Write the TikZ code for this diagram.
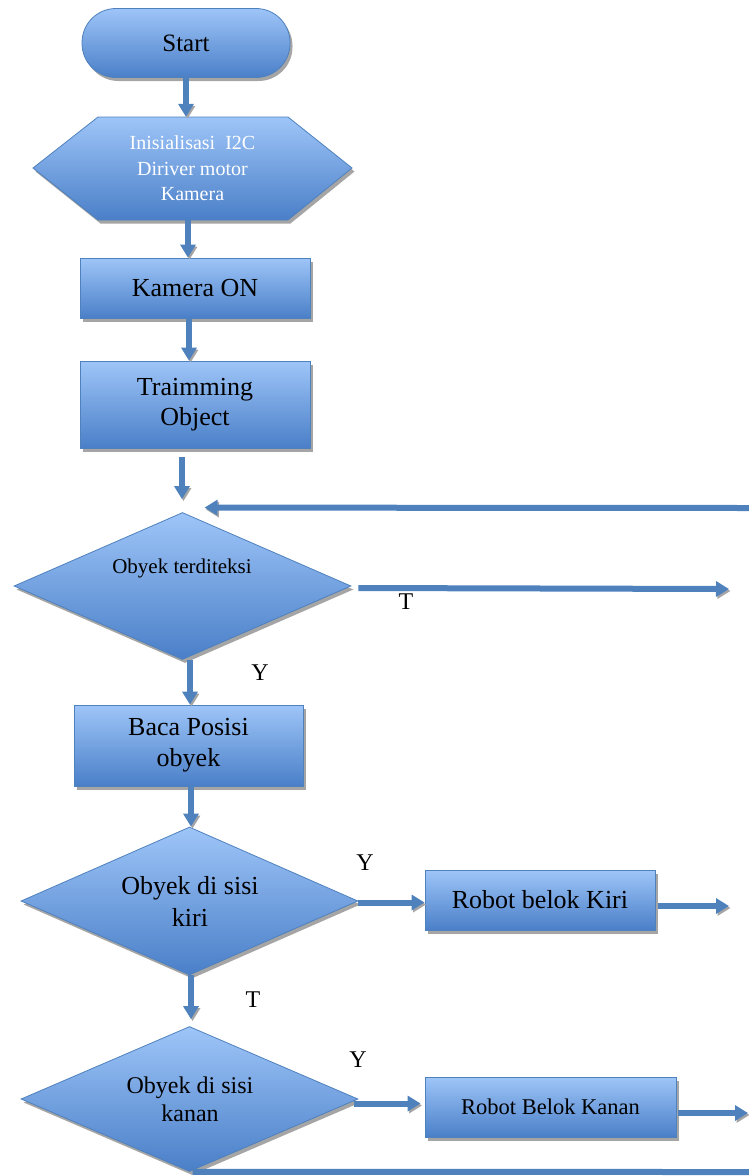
\documentclass[tikz,border=0pt]{standalone}
\usepackage{fontspec}
\setmainfont{Liberation Serif}
\usetikzlibrary{shapes.geometric,arrows.meta,shadows,calc}
\definecolor{flowblue}{HTML}{4F81BD}
\definecolor{fillTop}{HTML}{9EC5F8}
\definecolor{fillBot}{HTML}{4A7FC8}
\definecolor{shadowgray}{HTML}{A5A5A5}
\tikzset{
  boxfill/.style={draw=flowblue, line width=0.8pt, top color=fillTop, bottom color=fillBot,
    drop shadow={shadow xshift=2.5pt, shadow yshift=-3.5pt, fill=shadowgray, opacity=1}},
  procbox/.style={boxfill, rectangle, inner sep=0pt, align=center, minimum width=230pt, minimum height=60pt},
  decbox/.style={boxfill, diamond, inner sep=0pt, minimum width=337pt},
  flowline/.style={line width=6pt, draw=flowblue,
    preaction={draw=shadowgray, transform canvas={xshift=1.5pt, yshift=-2pt}}},
  arr/.style={flowline, -{Triangle[width=15pt,length=13pt]}},
  lbl/.style={font=\fontsize{24}{28}\selectfont},
}
\begin{document}
\begin{tikzpicture}[x=1pt,y=1pt]
\useasboundingbox (0,0) rectangle (749,-1176);

% terminator
\node[boxfill, rectangle, rounded corners=34pt, minimum width=208pt, minimum height=69pt,
      font=\fontsize{25}{30}\selectfont] (start) at (186,-43) {Start};

% preparation (hexagon)
\path[boxfill] (33,-168) -- (98,-117) -- (288,-117) -- (352,-168) -- (288,-220) -- (98,-220) -- cycle;
\node[minimum width=319pt, minimum height=103pt, inner sep=0pt, align=center, text=white,
      font=\fontsize{20}{25.5}\selectfont] (init) at (192.5,-168.5)
      {Inisialisasi~~I2C\\Diriver motor\\Kamera};

% processes
\node[procbox, font=\fontsize{26}{30}\selectfont] (kam) at (195,-288) {Kamera ON};
\node[procbox, minimum height=87pt, font=\fontsize{26}{30}\selectfont] (trim) at (195,-404.5) {Traimming\\Object};
\node[procbox, minimum width=229pt, minimum height=81pt, font=\fontsize{26}{31}\selectfont] (baca) at (188.5,-745.5) {Baca Posisi\\obyek};
\node[procbox, font=\fontsize{26}{30}\selectfont] (kiri) at (540,-900) {Robot belok Kiri};
\node[procbox, minimum width=251pt, font=\fontsize{22.5}{27}\selectfont] (kanan) at (550.5,-1107) {Robot Belok Kanan};

% decisions
\node[decbox, minimum height=147pt] (d1) at (182.5,-586) {};
\node[decbox, minimum height=148pt] (d2) at (189.5,-901) {};
\node[decbox, minimum height=145pt] (d3) at (189.5,-1099) {};
\node[font=\fontsize{21}{25}\selectfont] (d1t) at (182,-568) {Obyek terditeksi};
\node[align=center, font=\fontsize{26}{32}\selectfont] (d2t) at (190,-901) {Obyek di sisi\\kiri};
\node[align=center, font=\fontsize{24}{28}\selectfont] (d3t) at (190,-1099) {Obyek di sisi\\kanan};

% free ends of connectors
\coordinate (fbR) at (749,-508);
\coordinate (tEnd) at (729,-589);
\coordinate (kiriOut) at (729,-906);
\coordinate (kananOut) at (748,-1113);
\coordinate (loopR) at (749,-1172);

% connectors
\draw[arr] (start.south) -- (start.south |- init.north);
\draw[arr] ([xshift=-4.5pt]init.south) -- ([xshift=-4.5pt]init.south |- kam.north);
\draw[arr] ([xshift=-6pt]kam.south) -- ([xshift=-6pt]trim.north);
\draw[arr] ([xshift=-13pt,yshift=-9pt]trim.south) -- ([xshift=-0.5pt,yshift=13pt]d1.north);
\draw[arr] (fbR) -- ([xshift=22pt,yshift=4.5pt]d1.north);
\draw[arr] ([xshift=7pt,yshift=-2pt]d1.east) -- (tEnd);
\draw[arr] ([xshift=7.5pt]d1.south) -- ([xshift=7.5pt]d1.south |- baca.north);
\draw[arr] ([xshift=2.5pt]baca.south) -- ([xshift=2.5pt]baca.south |- d2.north);
\draw[arr] ([yshift=-1.5pt]d2.east) -- ([yshift=-1.5pt]d2.east -| kiri.west);
\draw[arr] ([xshift=3pt,yshift=-6pt]kiri.east) -- (kiriOut);
\draw[arr] ([xshift=1.5pt]d2.south) -- ([xshift=1.5pt,yshift=7pt]d2.south |- d3.north);
\draw[arr] ([xshift=-4pt,yshift=-4.5pt]d3.east) -- ([xshift=-4pt,yshift=-4.5pt]d3.east -| kanan.west);
\draw[arr] ([xshift=2pt,yshift=-6pt]kanan.east) -- (kananOut);
\draw[flowline] ([xshift=3pt]d3.south) -- (loopR);

% branch labels
\node[lbl] (l1) at (406,-602) {T};
\node[lbl] (l2) at (260,-673) {Y};
\node[lbl] (l3) at (365,-863) {Y};
\node[lbl] (l4) at (253,-1000) {T};
\node[lbl] (l5) at (358,-1060) {Y};
\end{tikzpicture}
\end{document}
